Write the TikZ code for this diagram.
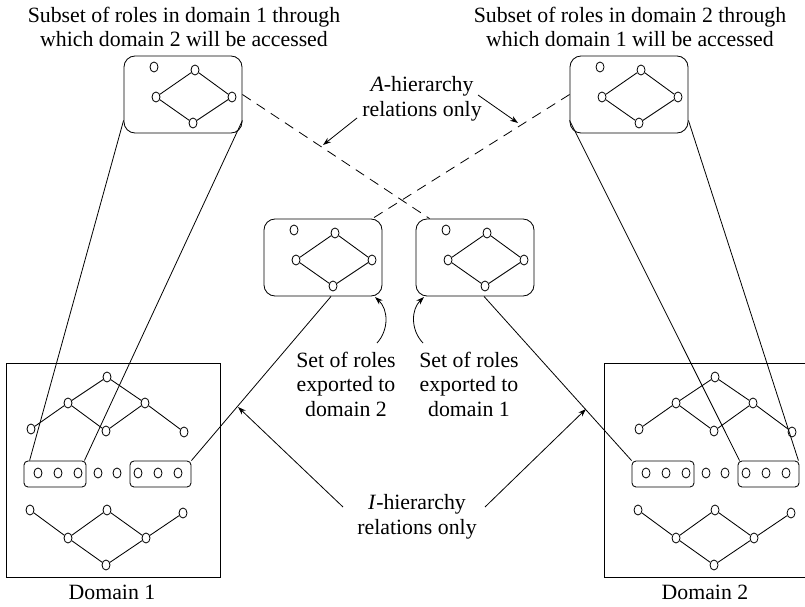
\documentclass[tikz,border=0pt]{standalone}
\usepackage{fontspec}
\setmainfont{Liberation Serif}
\usetikzlibrary{shapes.geometric,arrows.meta}

% rounded box holding an isolated role and a four-role diamond
\newcommand\subsetbox[3]{% name, left x, top y
  \node[subset] (#1) at (#2+59,#3+38.5) {};
  \node[role] (#1-i) at (#2+30,#3+11) {};
  \node[role] (#1-t) at (#2+71,#3+14) {};
  \node[role] (#1-l) at (#2+32,#3+41) {};
  \node[role] (#1-r) at (#2+108,#3+41) {};
  \node[role] (#1-b) at (#2+69,#3+67) {};
  \draw (#1-l) -- (#1-t) -- (#1-r) -- (#1-b) -- (#1-l);
}

% role hierarchy of one domain
\newcommand\domainroles[2]{% prefix, horizontal offset
  \begin{scope}[xshift=#2pt]
    % upper hierarchy
    \node[role] (#1-a) at (31,429) {};
    \node[role] (#1-b) at (68,403) {};
    \node[role] (#1-c) at (107,377) {};
    \node[role] (#1-d) at (106,431) {};
    \node[role] (#1-e) at (145,403) {};
    \node[role] (#1-f) at (184,432) {};
    \draw (#1-a) -- (#1-b) -- (#1-c) -- (#1-e) -- (#1-f);
    \draw (#1-b) -- (#1-d) -- (#1-e);
    % middle row with two groups
    \node[rowbox, minimum width=62pt] (#1-x) at (55,474) {};
    \node[role] (#1-x1) at (38,473) {};
    \node[role] (#1-x2) at (58,473) {};
    \node[role] (#1-x3) at (78,473) {};
    \node[role] (#1-p) at (98,473) {};
    \node[role] (#1-q) at (117,473) {};
    \node[rowbox, minimum width=61pt] (#1-y) at (160.5,474) {};
    \node[role] (#1-y1) at (138,473) {};
    \node[role] (#1-y2) at (158,473) {};
    \node[role] (#1-y3) at (178,473) {};
    % lower hierarchy
    \node[role] (#1-g) at (30,510) {};
    \node[role] (#1-h) at (68,538) {};
    \node[role] (#1-i) at (107,510) {};
    \node[role] (#1-j) at (106,565) {};
    \node[role] (#1-k) at (146,538) {};
    \node[role] (#1-l) at (183,513) {};
    \draw (#1-g) -- (#1-h) -- (#1-i) -- (#1-k) -- (#1-l);
    \draw (#1-h) -- (#1-j) -- (#1-k);
  \end{scope}
}

\begin{document}
\begin{tikzpicture}[x=1pt,y=-1pt,line width=0.85pt,
  role/.style={draw, ellipse, minimum width=8pt, minimum height=10pt,
    inner sep=0pt, fill=white, line width=0.8pt},
  subset/.style={draw, rounded corners=11pt, minimum width=118pt,
    minimum height=77pt, inner sep=0pt},
  rowbox/.style={draw, rounded corners=4pt, minimum height=26pt, inner sep=0pt},
  domainbox/.style={draw, anchor=north west, inner sep=0pt,
    minimum height=214pt},
  lbl/.style={align=center, font=\fontsize{21.8}{24.5}\selectfont, inner sep=0pt},
  link/.style={line width=0.8pt},
  ahier/.style={line width=0.8pt, dash pattern=on 10pt off 7pt},
  ptr/.style={-{Stealth[length=8pt,width=5.5pt]}, line width=0.8pt}]

\clip (0,0) rectangle (805,607);

% domains
\node[domainbox, minimum width=214pt] (dom1) at (6,363) {};
\node[domainbox, minimum width=216pt] (dom2) at (604,363) {};
\domainroles{d1}{0}
\domainroles{d2}{608}
\node[lbl] (dom1lbl) at (112,592.5) {Domain 1};
\node[lbl] (dom2lbl) at (705,592.5) {Domain 2};

% access subsets and exported sets
\subsetbox{tl}{124}{56}
\subsetbox{tr}{570}{56}
\subsetbox{ml}{264}{219}
\subsetbox{mr}{416}{219}

% titles
\node[lbl] (t1) at (184,27) {Subset of roles in domain 1 through\\which domain 2 will be accessed};
\node[lbl] (t2) at (630,27) {Subset of roles in domain 2 through\\which domain 1 will be accessed};

% subsets to their domain groups
\draw[link] ([yshift=13pt]tl.south west) -- ([xshift=6pt]d1-x.north west);
\draw[link] ([yshift=13pt]tl.south east) -- ([xshift=-2pt]d1-x.north east);
\draw[link] ([yshift=13pt]tr.south west) -- ([xshift=2pt]d2-y.north west);
\draw[link] ([yshift=13pt]tr.south east) -- ([xshift=-1pt]d2-y.north east);

% exported sets to their domain groups
\draw[link] ([xshift=8pt]ml.south) -- (d1-y.north east);
\draw[link] ([xshift=9pt]mr.south) -- (d2-x.north west);

% A-hierarchy relations
\draw[ahier] (tl.east) -- ([xshift=14pt]mr.north west);
\draw[ahier] (tr.west) -- ([xshift=-10pt]ml.north east);
\node[lbl] (alabel) at (422,99) {\textit{A}-hierarchy\\relations only};
\coordinate (a1s) at (357,118);
\coordinate (a1e) at (323,145);
\coordinate (a2s) at (478,95);
\coordinate (a2e) at (518,123);
\draw[ptr] (a1s) -- (a1e);
\draw[ptr] (a2s) -- (a2e);

% exported-set labels
\node[lbl] (exp2) at (346,384) {Set of roles\\exported to\\domain 2};
\node[lbl] (exp1) at (469,384) {Set of roles\\exported to\\domain 1};
\coordinate (e2s) at (377,343);
\coordinate (e2e) at (375,297);
\coordinate (e1s) at (423,343);
\coordinate (e1e) at (424,297);
\draw[ptr] (e2s) to[bend right=45] (e2e);
\draw[ptr] (e1s) to[bend left=45] (e1e);

% I-hierarchy relations
\node[lbl] (ilabel) at (417,517) {\textit{I}-hierarchy\\relations only};
\coordinate (i1s) at (343,507);
\coordinate (i1e) at (238,407);
\coordinate (i2s) at (485,507);
\coordinate (i2e) at (586,409);
\draw[ptr] (i1s) -- (i1e);
\draw[ptr] (i2s) -- (i2e);
\end{tikzpicture}
\end{document}
